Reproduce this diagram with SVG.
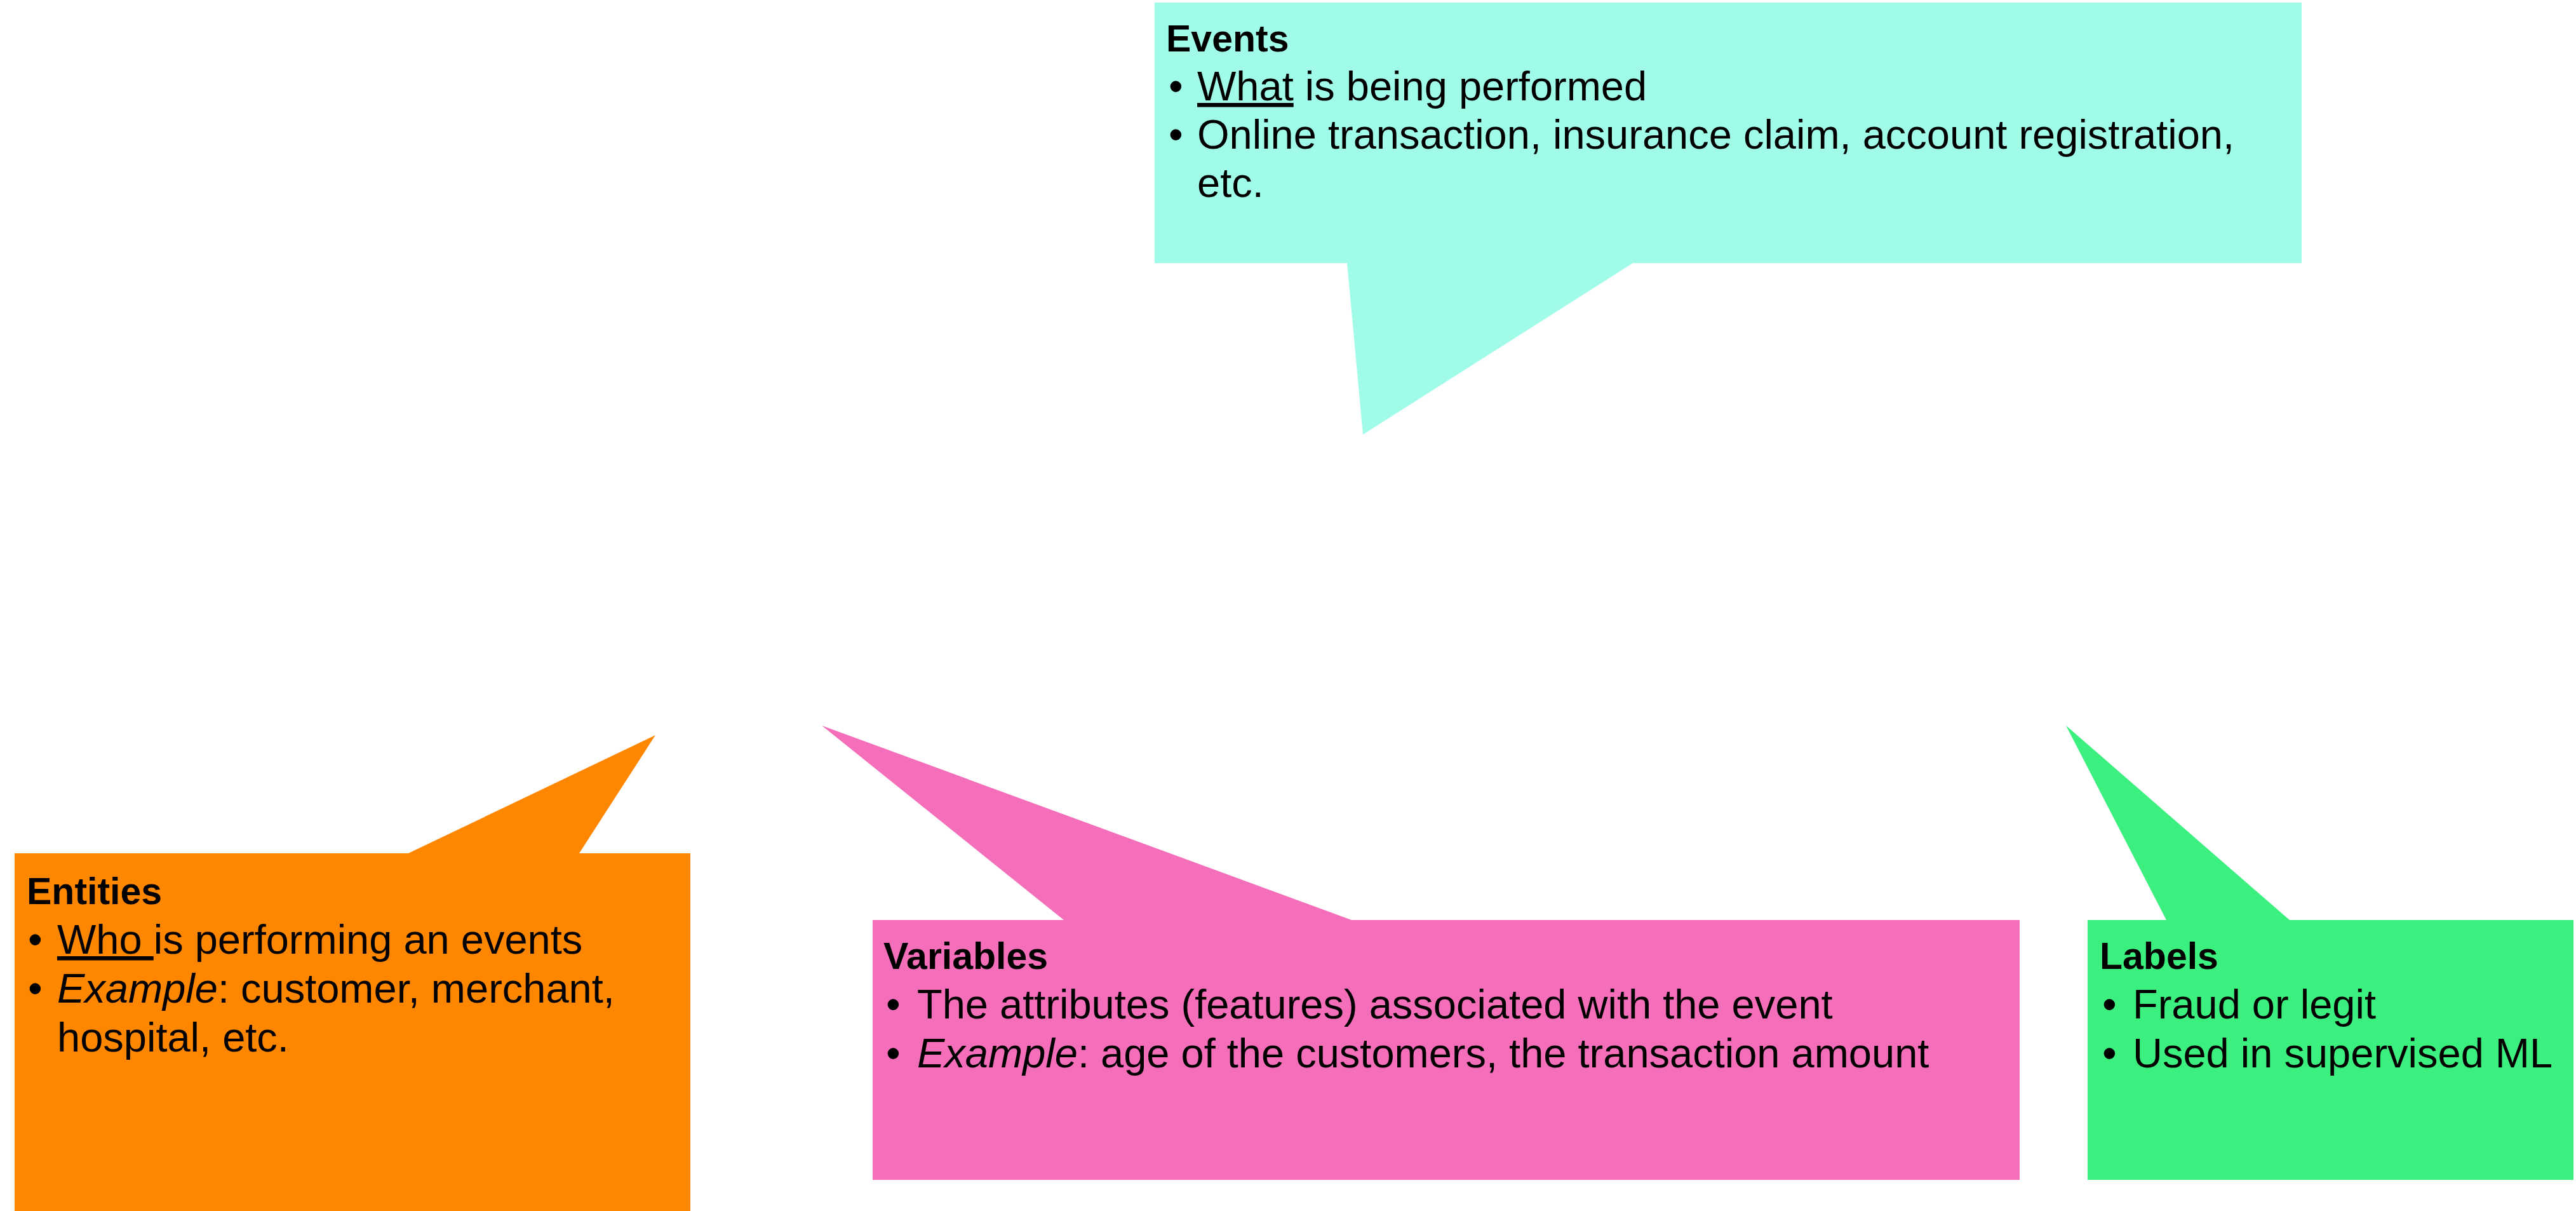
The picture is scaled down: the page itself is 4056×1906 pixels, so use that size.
<svg xmlns="http://www.w3.org/2000/svg" width="4056" height="1906" viewBox="0 0 4056 1906">
<style>
.t{font-family:"Liberation Sans",Arial,sans-serif;font-weight:bold;font-size:59px;fill:#000}
.b{font-family:"Liberation Sans",Arial,sans-serif;font-size:65px;fill:#000}
.u{text-decoration:underline}
.i{font-style:italic}
</style>
<rect width="4056" height="1906" fill="#ffffff"/>
<g id="connectors"></g>
<g id="events">
<path d="M1818,4 H3624 V414 H2571 L2146,684 L2121,414 H1818 Z" fill="#A0FCE9"/>
<text class="t" x="1836" y="81">Events</text>
<text class="b" x="1840" y="158">•</text>
<text class="b" x="1885" y="158"><tspan class="u">What</tspan> is being performed</text>
<text class="b" x="1840" y="234">•</text>
<text class="b" x="1885" y="234">Online transaction, insurance claim, account registration,</text>
<text class="b" x="1885" y="310">etc.</text>
</g>
<g id="entities">
<path d="M23,1343 H643 L1032,1157 L912,1343 H1087 V1906 H23 Z" fill="#FF8700"/>
<text class="t" x="42" y="1423">Entities</text>
<text class="b" x="44" y="1501">•</text>
<text class="b" x="90" y="1501"><tspan class="u">Who </tspan>is performing an events</text>
<text class="b" x="44" y="1578">•</text>
<text class="b" x="90" y="1578"><tspan class="i">Example</tspan>: customer, merchant,</text>
<text class="b" x="90" y="1655">hospital, etc.</text>
</g>
<g id="variables">
<path d="M1374,1448 H1675 L1294,1142 L2128,1448 H3180 V1857 H1374 Z" fill="#F46EBA"/>
<text class="t" x="1391" y="1525">Variables</text>
<text class="b" x="1395" y="1603">•</text>
<text class="b" x="1444" y="1603">The attributes (features) associated with the event</text>
<text class="b" x="1395" y="1680">•</text>
<text class="b" x="1444" y="1680"><tspan class="i">Example</tspan>: age of the customers, the transaction amount</text>
</g>
<g id="labels">
<path d="M3287,1448 H3411 L3253,1142 L3605,1448 H4052 V1857 H3287 Z" fill="#3BF07F"/>
<text class="t" x="3306" y="1525">Labels</text>
<text class="b" x="3310" y="1603">•</text>
<text class="b" x="3358" y="1603">Fraud or legit</text>
<text class="b" x="3310" y="1680">•</text>
<text class="b" x="3358" y="1680">Used in supervised ML</text>
</g>
</svg>
